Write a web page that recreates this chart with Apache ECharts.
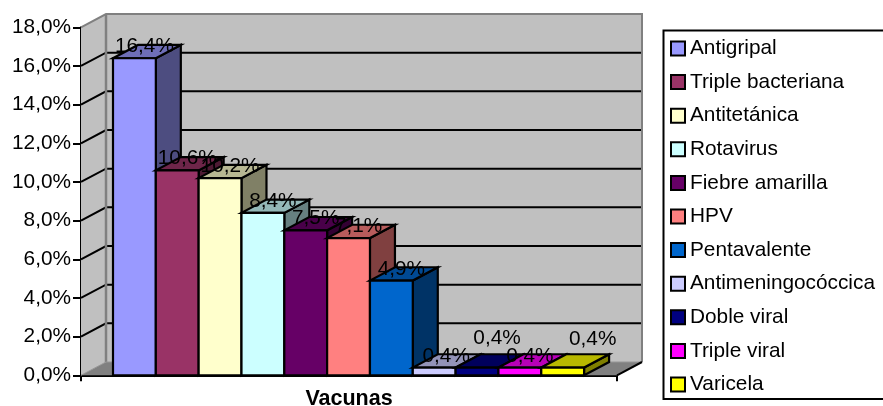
<!DOCTYPE html>
<html><head><meta charset="utf-8">
<style>html,body{margin:0;padding:0;background:#fff}#c{width:883px;height:406px}</style>
<script src="https://cdn.jsdelivr.net/npm/echarts@6/dist/echarts.min.js"></script>
</head><body><div id="c"></div>
<script>
const vaccines = ['Antigripal','Triple bacteriana','Antitetánica','Rotavirus','Fiebre amarilla','HPV','Pentavalente','Antimeningocóccica','Doble viral','Triple viral','Varicela'];
const values = [16.4,10.6,10.2,8.4,7.5,7.1,4.9,0.4,0.4,0.4,0.4];
const valueLabels = ['16,4%','10,6%','10,2%','8,4%','7,5%','7,1%','4,9%','0,4%','0,4%','0,4%','0,4%'];
const colors = ['#9999FF','#993366','#FFFFCC','#CCFFFF','#660066','#FF8080','#0066CC','#CCCCFF','#000080','#FF00FF','#FFFF00'];
const yTicks = [0,2,4,6,8,10,12,14,16,18];
const category = ['Vacunas'];

// 3-D projection of the depth axis and label nudges, in pixels
const DX = 25, DY = -13.3;
const labelNudge = [[10,1.5],[10,1.5],[10,1.5],[10,1.5],[10,1.5],[10,1.5],[10,1.5],[12,1.5],[20,-16.5],[10,1.5],[30,-15.5]];

function shade(hex, k){
  const n = parseInt(hex.slice(1),16);
  const c = [n>>16,(n>>8)&255,n&255].map(v=>Math.round(v*k));
  return 'rgb('+c.join(',')+')';
}
function poly(points, fill, stroke, lw, z2){
  return {type:'polygon',z2:z2||0,shape:{points},style:{fill,stroke:stroke||null,lineWidth:lw||0,lineJoin:'miter',miterLimit:10}};
}
function line(points, stroke, lw, z2){
  return {type:'polyline',z2:z2||0,shape:{points},style:{fill:null,stroke,lineWidth:lw,lineJoin:'miter'}};
}

function renderWall(params, api){
  const v = api.value(1);
  const p = api.coord([0,v]);
  const bw = api.size([1,0])[0];
  const xl = p[0]-bw/2, xr = p[0]+bw/2, y = p[1];
  const children = [];
  if (v === 0){
    const top = api.coord([0,18])[1];
    children.push(poly([[xl,top],[xl+DX,top+DY],[xl+DX,y+DY],[xl,y]],'#C0C0C0',null,0,0));
    children.push(poly([[xl+DX,top+DY],[xr+DX,top+DY],[xr+DX,y+DY],[xl+DX,y+DY]],'#C0C0C0',null,0,0));
    children.push(poly([[xl,y],[xl+DX,y+DY],[xr+DX,y+DY],[xr,y]],'#808080',null,0,1));
    children.push(line([[xl,top],[xl+DX,top+DY],[xr+DX,top+DY],[xr+DX,y+DY]],'#808080',2,5));
    children.push(line([[xl+DX,top+DY],[xl+DX,y+DY]],'#808080',2.5,5));
    children.push(line([[xl,y],[xl+DX,y+DY],[xr+DX,y+DY]],'#969696',1,5));
    children.push(line([[xr,y],[xr+DX,y+DY]],'#000',2,6));
  } else if (v !== 18){
    children.push(line([[xl,y],[xl+DX,y+DY],[xr+DX,y+DY]],'#000',2,2));
  }
  return {type:'group',children};
}

function renderBar(i){
  return function(params, api){
    const v = api.value(1);
    const p = api.coord([0,v]), b = api.coord([0,0]);
    const bw = api.size([1,0])[0];
    const barW = bw*0.0799, gap = bw*0.0597;
    const x0 = p[0]-bw/2+gap+i*barW, x1 = x0+barW;
    const yt = p[1], yb = b[1];
    const c = colors[i];
    const st = '#000', lw = 2.2;
    return {type:'group',children:[
      poly([[x1,yb],[x1+DX,yb+DY],[x1+DX,yt+DY],[x1,yt]],shade(c,0.5),st,lw,i),
      poly([[x0,yt],[x1,yt],[x1+DX,yt+DY],[x0+DX,yt+DY]],shade(c,0.72),st,lw,i),
      poly([[x0,yb],[x1,yb],[x1,yt],[x0,yt]],c,st,lw,i),
      {type:'text',z2:100,style:{
        text:valueLabels[i],
        x:(x0+x1)/2+labelNudge[i][0], y:yt+DY+labelNudge[i][1],
        align:'center',verticalAlign:'middle',
        font:'20.8px "Liberation Sans"',fill:'#000'}}
    ]};
  };
}

const series = [{
  name:'walls',type:'custom',clip:false,z:1,silent:true,
  encode:{x:0,y:1},
  data:yTicks.map(t=>[0,t]),
  renderItem:renderWall
}];
vaccines.forEach((name,i)=>{
  series.push({
    name,type:'custom',clip:false,z:3,silent:true,
    encode:{x:0,y:1},
    itemStyle:{color:colors[i]},
    data:[[0,values[i]]],
    renderItem:renderBar(i)
  });
});

const chart = echarts.init(document.getElementById('c'),null,{renderer:'canvas',width:883,height:406,devicePixelRatio:1});
chart.setOption({
  animation:false,
  backgroundColor:'#fff',
  textStyle:{fontFamily:'"Liberation Sans"'},
  grid:{left:81,right:266,top:27.3,bottom:30.7,containLabel:false,outerBoundsMode:'none'},
  xAxis:{
    type:'category',data:category,
    axisLine:{show:true,lineStyle:{color:'#000',width:2}},
    axisTick:{show:true,length:6,lineStyle:{color:'#000',width:2}},
    axisLabel:{fontSize:21.5,fontWeight:'bold',color:'#000',margin:13,fontFamily:'"Liberation Sans"'},
    splitLine:{show:false}
  },
  yAxis:{
    type:'value',min:0,max:18,interval:2,
    axisLine:{show:true,lineStyle:{color:'#000',width:2}},
    axisTick:{show:true,length:8,lineStyle:{color:'#000',width:2}},
    axisLabel:{fontSize:20.8,color:'#000',margin:10,fontFamily:'"Liberation Sans"',
      formatter:v=>v.toFixed(1).replace('.',',')+'%'},
    splitLine:{show:false}
  },
  legend:{
    orient:'vertical',left:670,top:38,padding:0,
    itemWidth:14,itemHeight:14,itemGap:12.6,
    icon:'rect',
    selectedMode:false,
    itemStyle:{borderColor:'#000',borderWidth:2},
    textStyle:{fontSize:20.8,color:'#000',padding:[0,0,0,0],fontFamily:'"Liberation Sans"',lineHeight:20},
    data:vaccines.map((n,i)=>({name:n,itemStyle:{color:colors[i],borderColor:'#000',borderWidth:2}}))
  },
  graphic:[{type:'rect',shape:{x:663.5,y:30.5,width:260,height:368.5},style:{fill:'#fff',stroke:'#000',lineWidth:2},z:-1}],
  series
});
</script></body></html>
